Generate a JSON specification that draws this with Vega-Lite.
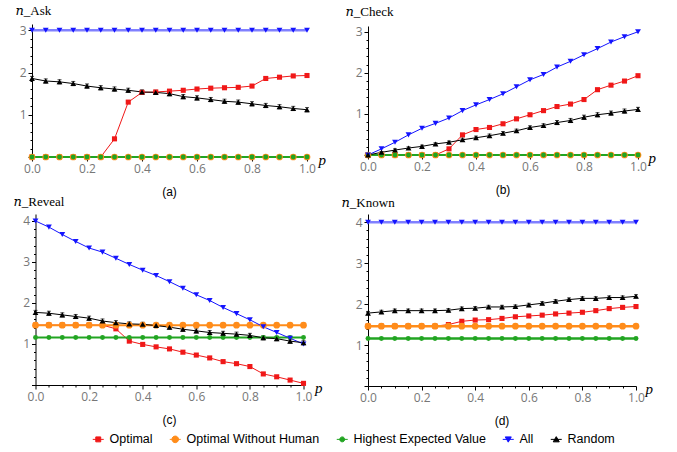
{
"$schema": "https://vega.github.io/schema/vega-lite/v6.json",
"padding": {"left": 13, "top": 4, "right": 5, "bottom": 5},
"background": "white",
"config": {
 "view": {"stroke": null},
 "axis": {"domainColor": "#000", "tickColor": "#000", "labelColor": "#777", "labelFont": "Open Sans", "labelFontSize": 12, "grid": false, "labelPadding": 2, "domainWidth": 1, "tickWidth": 1, "labelOverlap": false, "labelFlush": false, "titleFontWeight": "normal", "titleColor": "#000"},
 "title": {"font": "Liberation Sans", "fontSize": 12, "fontWeight": "normal", "color": "#000"}
},
"data": {"values": [
{"g":"a","s":"Optimal","p":0,"v":0},{"g":"a","s":"Optimal","p":0.05,"v":0},{"g":"a","s":"Optimal","p":0.1,"v":0},{"g":"a","s":"Optimal","p":0.15,"v":0},{"g":"a","s":"Optimal","p":0.2,"v":0},{"g":"a","s":"Optimal","p":0.25,"v":0},{"g":"a","s":"Optimal","p":0.3,"v":0.43},{"g":"a","s":"Optimal","p":0.35,"v":1.3},{"g":"a","s":"Optimal","p":0.4,"v":1.53},{"g":"a","s":"Optimal","p":0.45,"v":1.54},{"g":"a","s":"Optimal","p":0.5,"v":1.56},{"g":"a","s":"Optimal","p":0.55,"v":1.58},{"g":"a","s":"Optimal","p":0.6,"v":1.61},{"g":"a","s":"Optimal","p":0.65,"v":1.63},{"g":"a","s":"Optimal","p":0.7,"v":1.64},{"g":"a","s":"Optimal","p":0.75,"v":1.65},{"g":"a","s":"Optimal","p":0.8,"v":1.68},{"g":"a","s":"Optimal","p":0.85,"v":1.86},{"g":"a","s":"Optimal","p":0.9,"v":1.89},{"g":"a","s":"Optimal","p":0.95,"v":1.92},{"g":"a","s":"Optimal","p":1,"v":1.93},
{"g":"a","s":"Optimal Without Human","p":0,"v":0},{"g":"a","s":"Optimal Without Human","p":0.05,"v":0},{"g":"a","s":"Optimal Without Human","p":0.1,"v":0},{"g":"a","s":"Optimal Without Human","p":0.15,"v":0},{"g":"a","s":"Optimal Without Human","p":0.2,"v":0},{"g":"a","s":"Optimal Without Human","p":0.25,"v":0},{"g":"a","s":"Optimal Without Human","p":0.3,"v":0},{"g":"a","s":"Optimal Without Human","p":0.35,"v":0},{"g":"a","s":"Optimal Without Human","p":0.4,"v":0},{"g":"a","s":"Optimal Without Human","p":0.45,"v":0},{"g":"a","s":"Optimal Without Human","p":0.5,"v":0},{"g":"a","s":"Optimal Without Human","p":0.55,"v":0},{"g":"a","s":"Optimal Without Human","p":0.6,"v":0},{"g":"a","s":"Optimal Without Human","p":0.65,"v":0},{"g":"a","s":"Optimal Without Human","p":0.7,"v":0},{"g":"a","s":"Optimal Without Human","p":0.75,"v":0},{"g":"a","s":"Optimal Without Human","p":0.8,"v":0},{"g":"a","s":"Optimal Without Human","p":0.85,"v":0},{"g":"a","s":"Optimal Without Human","p":0.9,"v":0},{"g":"a","s":"Optimal Without Human","p":0.95,"v":0},{"g":"a","s":"Optimal Without Human","p":1,"v":0},
{"g":"a","s":"Highest Expected Value","p":0,"v":0},{"g":"a","s":"Highest Expected Value","p":0.05,"v":0},{"g":"a","s":"Highest Expected Value","p":0.1,"v":0},{"g":"a","s":"Highest Expected Value","p":0.15,"v":0},{"g":"a","s":"Highest Expected Value","p":0.2,"v":0},{"g":"a","s":"Highest Expected Value","p":0.25,"v":0},{"g":"a","s":"Highest Expected Value","p":0.3,"v":0},{"g":"a","s":"Highest Expected Value","p":0.35,"v":0},{"g":"a","s":"Highest Expected Value","p":0.4,"v":0},{"g":"a","s":"Highest Expected Value","p":0.45,"v":0},{"g":"a","s":"Highest Expected Value","p":0.5,"v":0},{"g":"a","s":"Highest Expected Value","p":0.55,"v":0},{"g":"a","s":"Highest Expected Value","p":0.6,"v":0},{"g":"a","s":"Highest Expected Value","p":0.65,"v":0},{"g":"a","s":"Highest Expected Value","p":0.7,"v":0},{"g":"a","s":"Highest Expected Value","p":0.75,"v":0},{"g":"a","s":"Highest Expected Value","p":0.8,"v":0},{"g":"a","s":"Highest Expected Value","p":0.85,"v":0},{"g":"a","s":"Highest Expected Value","p":0.9,"v":0},{"g":"a","s":"Highest Expected Value","p":0.95,"v":0},{"g":"a","s":"Highest Expected Value","p":1,"v":0},
{"g":"a","s":"All","p":0,"v":3},{"g":"a","s":"All","p":0.05,"v":3},{"g":"a","s":"All","p":0.1,"v":3},{"g":"a","s":"All","p":0.15,"v":3},{"g":"a","s":"All","p":0.2,"v":3},{"g":"a","s":"All","p":0.25,"v":3},{"g":"a","s":"All","p":0.3,"v":3},{"g":"a","s":"All","p":0.35,"v":3},{"g":"a","s":"All","p":0.4,"v":3},{"g":"a","s":"All","p":0.45,"v":3},{"g":"a","s":"All","p":0.5,"v":3},{"g":"a","s":"All","p":0.55,"v":3},{"g":"a","s":"All","p":0.6,"v":3},{"g":"a","s":"All","p":0.65,"v":3},{"g":"a","s":"All","p":0.7,"v":3},{"g":"a","s":"All","p":0.75,"v":3},{"g":"a","s":"All","p":0.8,"v":3},{"g":"a","s":"All","p":0.85,"v":3},{"g":"a","s":"All","p":0.9,"v":3},{"g":"a","s":"All","p":0.95,"v":3},{"g":"a","s":"All","p":1,"v":3},
{"g":"a","s":"Random","p":0,"v":1.86,"e":0.05},{"g":"a","s":"Random","p":0.05,"v":1.8,"e":0.05},{"g":"a","s":"Random","p":0.1,"v":1.78,"e":0.05},{"g":"a","s":"Random","p":0.15,"v":1.74,"e":0.05},{"g":"a","s":"Random","p":0.2,"v":1.68,"e":0.05},{"g":"a","s":"Random","p":0.25,"v":1.64,"e":0.05},{"g":"a","s":"Random","p":0.3,"v":1.61,"e":0.05},{"g":"a","s":"Random","p":0.35,"v":1.58,"e":0.05},{"g":"a","s":"Random","p":0.4,"v":1.54,"e":0.05},{"g":"a","s":"Random","p":0.45,"v":1.53,"e":0.05},{"g":"a","s":"Random","p":0.5,"v":1.5,"e":0.05},{"g":"a","s":"Random","p":0.55,"v":1.43,"e":0.05},{"g":"a","s":"Random","p":0.6,"v":1.4,"e":0.05},{"g":"a","s":"Random","p":0.65,"v":1.36,"e":0.05},{"g":"a","s":"Random","p":0.7,"v":1.32,"e":0.05},{"g":"a","s":"Random","p":0.75,"v":1.3,"e":0.05},{"g":"a","s":"Random","p":0.8,"v":1.26,"e":0.05},{"g":"a","s":"Random","p":0.85,"v":1.22,"e":0.05},{"g":"a","s":"Random","p":0.9,"v":1.19,"e":0.05},{"g":"a","s":"Random","p":0.95,"v":1.15,"e":0.05},{"g":"a","s":"Random","p":1,"v":1.12,"e":0.05},
{"g":"b","s":"Optimal","p":0,"v":0},{"g":"b","s":"Optimal","p":0.05,"v":0},{"g":"b","s":"Optimal","p":0.1,"v":0},{"g":"b","s":"Optimal","p":0.15,"v":0},{"g":"b","s":"Optimal","p":0.2,"v":0},{"g":"b","s":"Optimal","p":0.25,"v":0},{"g":"b","s":"Optimal","p":0.3,"v":0.15},{"g":"b","s":"Optimal","p":0.35,"v":0.49},{"g":"b","s":"Optimal","p":0.4,"v":0.62},{"g":"b","s":"Optimal","p":0.45,"v":0.67},{"g":"b","s":"Optimal","p":0.5,"v":0.76},{"g":"b","s":"Optimal","p":0.55,"v":0.88},{"g":"b","s":"Optimal","p":0.6,"v":0.98},{"g":"b","s":"Optimal","p":0.65,"v":1.08},{"g":"b","s":"Optimal","p":0.7,"v":1.18},{"g":"b","s":"Optimal","p":0.75,"v":1.24},{"g":"b","s":"Optimal","p":0.8,"v":1.35},{"g":"b","s":"Optimal","p":0.85,"v":1.59},{"g":"b","s":"Optimal","p":0.9,"v":1.7},{"g":"b","s":"Optimal","p":0.95,"v":1.8},{"g":"b","s":"Optimal","p":1,"v":1.93},
{"g":"b","s":"Optimal Without Human","p":0,"v":0},{"g":"b","s":"Optimal Without Human","p":0.05,"v":0},{"g":"b","s":"Optimal Without Human","p":0.1,"v":0},{"g":"b","s":"Optimal Without Human","p":0.15,"v":0},{"g":"b","s":"Optimal Without Human","p":0.2,"v":0},{"g":"b","s":"Optimal Without Human","p":0.25,"v":0},{"g":"b","s":"Optimal Without Human","p":0.3,"v":0},{"g":"b","s":"Optimal Without Human","p":0.35,"v":0},{"g":"b","s":"Optimal Without Human","p":0.4,"v":0},{"g":"b","s":"Optimal Without Human","p":0.45,"v":0},{"g":"b","s":"Optimal Without Human","p":0.5,"v":0},{"g":"b","s":"Optimal Without Human","p":0.55,"v":0},{"g":"b","s":"Optimal Without Human","p":0.6,"v":0},{"g":"b","s":"Optimal Without Human","p":0.65,"v":0},{"g":"b","s":"Optimal Without Human","p":0.7,"v":0},{"g":"b","s":"Optimal Without Human","p":0.75,"v":0},{"g":"b","s":"Optimal Without Human","p":0.8,"v":0},{"g":"b","s":"Optimal Without Human","p":0.85,"v":0},{"g":"b","s":"Optimal Without Human","p":0.9,"v":0},{"g":"b","s":"Optimal Without Human","p":0.95,"v":0},{"g":"b","s":"Optimal Without Human","p":1,"v":0},
{"g":"b","s":"Highest Expected Value","p":0,"v":0},{"g":"b","s":"Highest Expected Value","p":0.05,"v":0},{"g":"b","s":"Highest Expected Value","p":0.1,"v":0},{"g":"b","s":"Highest Expected Value","p":0.15,"v":0},{"g":"b","s":"Highest Expected Value","p":0.2,"v":0},{"g":"b","s":"Highest Expected Value","p":0.25,"v":0},{"g":"b","s":"Highest Expected Value","p":0.3,"v":0},{"g":"b","s":"Highest Expected Value","p":0.35,"v":0},{"g":"b","s":"Highest Expected Value","p":0.4,"v":0},{"g":"b","s":"Highest Expected Value","p":0.45,"v":0},{"g":"b","s":"Highest Expected Value","p":0.5,"v":0},{"g":"b","s":"Highest Expected Value","p":0.55,"v":0},{"g":"b","s":"Highest Expected Value","p":0.6,"v":0},{"g":"b","s":"Highest Expected Value","p":0.65,"v":0},{"g":"b","s":"Highest Expected Value","p":0.7,"v":0},{"g":"b","s":"Highest Expected Value","p":0.75,"v":0},{"g":"b","s":"Highest Expected Value","p":0.8,"v":0},{"g":"b","s":"Highest Expected Value","p":0.85,"v":0},{"g":"b","s":"Highest Expected Value","p":0.9,"v":0},{"g":"b","s":"Highest Expected Value","p":0.95,"v":0},{"g":"b","s":"Highest Expected Value","p":1,"v":0},
{"g":"b","s":"All","p":0,"v":0},{"g":"b","s":"All","p":0.05,"v":0.15},{"g":"b","s":"All","p":0.1,"v":0.31},{"g":"b","s":"All","p":0.15,"v":0.49},{"g":"b","s":"All","p":0.2,"v":0.65},{"g":"b","s":"All","p":0.25,"v":0.77},{"g":"b","s":"All","p":0.3,"v":0.9},{"g":"b","s":"All","p":0.35,"v":1.08},{"g":"b","s":"All","p":0.4,"v":1.22},{"g":"b","s":"All","p":0.45,"v":1.35},{"g":"b","s":"All","p":0.5,"v":1.49},{"g":"b","s":"All","p":0.55,"v":1.66},{"g":"b","s":"All","p":0.6,"v":1.83},{"g":"b","s":"All","p":0.65,"v":1.96},{"g":"b","s":"All","p":0.7,"v":2.14},{"g":"b","s":"All","p":0.75,"v":2.28},{"g":"b","s":"All","p":0.8,"v":2.44},{"g":"b","s":"All","p":0.85,"v":2.59},{"g":"b","s":"All","p":0.9,"v":2.75},{"g":"b","s":"All","p":0.95,"v":2.88},{"g":"b","s":"All","p":1,"v":3},
{"g":"b","s":"Random","p":0,"v":0,"e":0},{"g":"b","s":"Random","p":0.05,"v":0.065,"e":0.02},{"g":"b","s":"Random","p":0.1,"v":0.12,"e":0.03},{"g":"b","s":"Random","p":0.15,"v":0.17,"e":0.03},{"g":"b","s":"Random","p":0.2,"v":0.21,"e":0.03},{"g":"b","s":"Random","p":0.25,"v":0.27,"e":0.03},{"g":"b","s":"Random","p":0.3,"v":0.31,"e":0.03},{"g":"b","s":"Random","p":0.35,"v":0.37,"e":0.04},{"g":"b","s":"Random","p":0.4,"v":0.42,"e":0.04},{"g":"b","s":"Random","p":0.45,"v":0.47,"e":0.04},{"g":"b","s":"Random","p":0.5,"v":0.53,"e":0.04},{"g":"b","s":"Random","p":0.55,"v":0.59,"e":0.04},{"g":"b","s":"Random","p":0.6,"v":0.67,"e":0.04},{"g":"b","s":"Random","p":0.65,"v":0.72,"e":0.04},{"g":"b","s":"Random","p":0.7,"v":0.79,"e":0.05},{"g":"b","s":"Random","p":0.75,"v":0.84,"e":0.05},{"g":"b","s":"Random","p":0.8,"v":0.92,"e":0.05},{"g":"b","s":"Random","p":0.85,"v":0.98,"e":0.05},{"g":"b","s":"Random","p":0.9,"v":1.02,"e":0.05},{"g":"b","s":"Random","p":0.95,"v":1.07,"e":0.05},{"g":"b","s":"Random","p":1,"v":1.11,"e":0.05},
{"g":"c","s":"Optimal","p":0,"v":1.46},{"g":"c","s":"Optimal","p":0.05,"v":1.46},{"g":"c","s":"Optimal","p":0.1,"v":1.46},{"g":"c","s":"Optimal","p":0.15,"v":1.46},{"g":"c","s":"Optimal","p":0.2,"v":1.46},{"g":"c","s":"Optimal","p":0.25,"v":1.46},{"g":"c","s":"Optimal","p":0.3,"v":1.37},{"g":"c","s":"Optimal","p":0.35,"v":1.07},{"g":"c","s":"Optimal","p":0.4,"v":0.99},{"g":"c","s":"Optimal","p":0.45,"v":0.93},{"g":"c","s":"Optimal","p":0.5,"v":0.88},{"g":"c","s":"Optimal","p":0.55,"v":0.8},{"g":"c","s":"Optimal","p":0.6,"v":0.73},{"g":"c","s":"Optimal","p":0.65,"v":0.66},{"g":"c","s":"Optimal","p":0.7,"v":0.57},{"g":"c","s":"Optimal","p":0.75,"v":0.52},{"g":"c","s":"Optimal","p":0.8,"v":0.45},{"g":"c","s":"Optimal","p":0.85,"v":0.27},{"g":"c","s":"Optimal","p":0.9,"v":0.2},{"g":"c","s":"Optimal","p":0.95,"v":0.12},{"g":"c","s":"Optimal","p":1,"v":0.04},
{"g":"c","s":"Optimal Without Human","p":0,"v":1.46},{"g":"c","s":"Optimal Without Human","p":0.05,"v":1.46},{"g":"c","s":"Optimal Without Human","p":0.1,"v":1.46},{"g":"c","s":"Optimal Without Human","p":0.15,"v":1.46},{"g":"c","s":"Optimal Without Human","p":0.2,"v":1.46},{"g":"c","s":"Optimal Without Human","p":0.25,"v":1.46},{"g":"c","s":"Optimal Without Human","p":0.3,"v":1.46},{"g":"c","s":"Optimal Without Human","p":0.35,"v":1.46},{"g":"c","s":"Optimal Without Human","p":0.4,"v":1.46},{"g":"c","s":"Optimal Without Human","p":0.45,"v":1.46},{"g":"c","s":"Optimal Without Human","p":0.5,"v":1.46},{"g":"c","s":"Optimal Without Human","p":0.55,"v":1.46},{"g":"c","s":"Optimal Without Human","p":0.6,"v":1.46},{"g":"c","s":"Optimal Without Human","p":0.65,"v":1.46},{"g":"c","s":"Optimal Without Human","p":0.7,"v":1.46},{"g":"c","s":"Optimal Without Human","p":0.75,"v":1.46},{"g":"c","s":"Optimal Without Human","p":0.8,"v":1.46},{"g":"c","s":"Optimal Without Human","p":0.85,"v":1.46},{"g":"c","s":"Optimal Without Human","p":0.9,"v":1.46},{"g":"c","s":"Optimal Without Human","p":0.95,"v":1.46},{"g":"c","s":"Optimal Without Human","p":1,"v":1.46},
{"g":"c","s":"Highest Expected Value","p":0,"v":1.16},{"g":"c","s":"Highest Expected Value","p":0.05,"v":1.16},{"g":"c","s":"Highest Expected Value","p":0.1,"v":1.16},{"g":"c","s":"Highest Expected Value","p":0.15,"v":1.16},{"g":"c","s":"Highest Expected Value","p":0.2,"v":1.16},{"g":"c","s":"Highest Expected Value","p":0.25,"v":1.16},{"g":"c","s":"Highest Expected Value","p":0.3,"v":1.16},{"g":"c","s":"Highest Expected Value","p":0.35,"v":1.16},{"g":"c","s":"Highest Expected Value","p":0.4,"v":1.16},{"g":"c","s":"Highest Expected Value","p":0.45,"v":1.16},{"g":"c","s":"Highest Expected Value","p":0.5,"v":1.16},{"g":"c","s":"Highest Expected Value","p":0.55,"v":1.16},{"g":"c","s":"Highest Expected Value","p":0.6,"v":1.16},{"g":"c","s":"Highest Expected Value","p":0.65,"v":1.16},{"g":"c","s":"Highest Expected Value","p":0.7,"v":1.16},{"g":"c","s":"Highest Expected Value","p":0.75,"v":1.16},{"g":"c","s":"Highest Expected Value","p":0.8,"v":1.16},{"g":"c","s":"Highest Expected Value","p":0.85,"v":1.16},{"g":"c","s":"Highest Expected Value","p":0.9,"v":1.16},{"g":"c","s":"Highest Expected Value","p":0.95,"v":1.16},{"g":"c","s":"Highest Expected Value","p":1,"v":1.16},
{"g":"c","s":"All","p":0,"v":4},{"g":"c","s":"All","p":0.05,"v":3.85},{"g":"c","s":"All","p":0.1,"v":3.67},{"g":"c","s":"All","p":0.15,"v":3.5},{"g":"c","s":"All","p":0.2,"v":3.34},{"g":"c","s":"All","p":0.25,"v":3.24},{"g":"c","s":"All","p":0.3,"v":3.09},{"g":"c","s":"All","p":0.35,"v":2.94},{"g":"c","s":"All","p":0.4,"v":2.8},{"g":"c","s":"All","p":0.45,"v":2.67},{"g":"c","s":"All","p":0.5,"v":2.52},{"g":"c","s":"All","p":0.55,"v":2.36},{"g":"c","s":"All","p":0.6,"v":2.2},{"g":"c","s":"All","p":0.65,"v":2.06},{"g":"c","s":"All","p":0.7,"v":1.89},{"g":"c","s":"All","p":0.75,"v":1.74},{"g":"c","s":"All","p":0.8,"v":1.59},{"g":"c","s":"All","p":0.85,"v":1.42},{"g":"c","s":"All","p":0.9,"v":1.28},{"g":"c","s":"All","p":0.95,"v":1.14},{"g":"c","s":"All","p":1,"v":1},
{"g":"c","s":"Random","p":0,"v":1.77,"e":0.05},{"g":"c","s":"Random","p":0.05,"v":1.75,"e":0.05},{"g":"c","s":"Random","p":0.1,"v":1.71,"e":0.05},{"g":"c","s":"Random","p":0.15,"v":1.67,"e":0.05},{"g":"c","s":"Random","p":0.2,"v":1.63,"e":0.05},{"g":"c","s":"Random","p":0.25,"v":1.56,"e":0.05},{"g":"c","s":"Random","p":0.3,"v":1.52,"e":0.05},{"g":"c","s":"Random","p":0.35,"v":1.49,"e":0.05},{"g":"c","s":"Random","p":0.4,"v":1.48,"e":0.05},{"g":"c","s":"Random","p":0.45,"v":1.45,"e":0.05},{"g":"c","s":"Random","p":0.5,"v":1.41,"e":0.05},{"g":"c","s":"Random","p":0.55,"v":1.36,"e":0.05},{"g":"c","s":"Random","p":0.6,"v":1.32,"e":0.05},{"g":"c","s":"Random","p":0.65,"v":1.28,"e":0.05},{"g":"c","s":"Random","p":0.7,"v":1.26,"e":0.05},{"g":"c","s":"Random","p":0.75,"v":1.24,"e":0.05},{"g":"c","s":"Random","p":0.8,"v":1.21,"e":0.05},{"g":"c","s":"Random","p":0.85,"v":1.15,"e":0.05},{"g":"c","s":"Random","p":0.9,"v":1.13,"e":0.05},{"g":"c","s":"Random","p":0.95,"v":1.07,"e":0.05},{"g":"c","s":"Random","p":1,"v":1.03,"e":0.05},
{"g":"d","s":"Optimal","p":0,"v":1.46},{"g":"d","s":"Optimal","p":0.05,"v":1.46},{"g":"d","s":"Optimal","p":0.1,"v":1.46},{"g":"d","s":"Optimal","p":0.15,"v":1.46},{"g":"d","s":"Optimal","p":0.2,"v":1.46},{"g":"d","s":"Optimal","p":0.25,"v":1.46},{"g":"d","s":"Optimal","p":0.3,"v":1.5},{"g":"d","s":"Optimal","p":0.35,"v":1.58},{"g":"d","s":"Optimal","p":0.4,"v":1.61},{"g":"d","s":"Optimal","p":0.45,"v":1.62},{"g":"d","s":"Optimal","p":0.5,"v":1.65},{"g":"d","s":"Optimal","p":0.55,"v":1.69},{"g":"d","s":"Optimal","p":0.6,"v":1.71},{"g":"d","s":"Optimal","p":0.65,"v":1.73},{"g":"d","s":"Optimal","p":0.7,"v":1.76},{"g":"d","s":"Optimal","p":0.75,"v":1.78},{"g":"d","s":"Optimal","p":0.8,"v":1.8},{"g":"d","s":"Optimal","p":0.85,"v":1.84},{"g":"d","s":"Optimal","p":0.9,"v":1.89},{"g":"d","s":"Optimal","p":0.95,"v":1.92},{"g":"d","s":"Optimal","p":1,"v":1.94},
{"g":"d","s":"Optimal Without Human","p":0,"v":1.46},{"g":"d","s":"Optimal Without Human","p":0.05,"v":1.46},{"g":"d","s":"Optimal Without Human","p":0.1,"v":1.46},{"g":"d","s":"Optimal Without Human","p":0.15,"v":1.46},{"g":"d","s":"Optimal Without Human","p":0.2,"v":1.46},{"g":"d","s":"Optimal Without Human","p":0.25,"v":1.46},{"g":"d","s":"Optimal Without Human","p":0.3,"v":1.46},{"g":"d","s":"Optimal Without Human","p":0.35,"v":1.46},{"g":"d","s":"Optimal Without Human","p":0.4,"v":1.46},{"g":"d","s":"Optimal Without Human","p":0.45,"v":1.46},{"g":"d","s":"Optimal Without Human","p":0.5,"v":1.46},{"g":"d","s":"Optimal Without Human","p":0.55,"v":1.46},{"g":"d","s":"Optimal Without Human","p":0.6,"v":1.46},{"g":"d","s":"Optimal Without Human","p":0.65,"v":1.46},{"g":"d","s":"Optimal Without Human","p":0.7,"v":1.46},{"g":"d","s":"Optimal Without Human","p":0.75,"v":1.46},{"g":"d","s":"Optimal Without Human","p":0.8,"v":1.46},{"g":"d","s":"Optimal Without Human","p":0.85,"v":1.46},{"g":"d","s":"Optimal Without Human","p":0.9,"v":1.46},{"g":"d","s":"Optimal Without Human","p":0.95,"v":1.46},{"g":"d","s":"Optimal Without Human","p":1,"v":1.46},
{"g":"d","s":"Highest Expected Value","p":0,"v":1.16},{"g":"d","s":"Highest Expected Value","p":0.05,"v":1.16},{"g":"d","s":"Highest Expected Value","p":0.1,"v":1.16},{"g":"d","s":"Highest Expected Value","p":0.15,"v":1.16},{"g":"d","s":"Highest Expected Value","p":0.2,"v":1.16},{"g":"d","s":"Highest Expected Value","p":0.25,"v":1.16},{"g":"d","s":"Highest Expected Value","p":0.3,"v":1.16},{"g":"d","s":"Highest Expected Value","p":0.35,"v":1.16},{"g":"d","s":"Highest Expected Value","p":0.4,"v":1.16},{"g":"d","s":"Highest Expected Value","p":0.45,"v":1.16},{"g":"d","s":"Highest Expected Value","p":0.5,"v":1.16},{"g":"d","s":"Highest Expected Value","p":0.55,"v":1.16},{"g":"d","s":"Highest Expected Value","p":0.6,"v":1.16},{"g":"d","s":"Highest Expected Value","p":0.65,"v":1.16},{"g":"d","s":"Highest Expected Value","p":0.7,"v":1.16},{"g":"d","s":"Highest Expected Value","p":0.75,"v":1.16},{"g":"d","s":"Highest Expected Value","p":0.8,"v":1.16},{"g":"d","s":"Highest Expected Value","p":0.85,"v":1.16},{"g":"d","s":"Highest Expected Value","p":0.9,"v":1.16},{"g":"d","s":"Highest Expected Value","p":0.95,"v":1.16},{"g":"d","s":"Highest Expected Value","p":1,"v":1.16},
{"g":"d","s":"All","p":0,"v":4},{"g":"d","s":"All","p":0.05,"v":4},{"g":"d","s":"All","p":0.1,"v":4},{"g":"d","s":"All","p":0.15,"v":4},{"g":"d","s":"All","p":0.2,"v":4},{"g":"d","s":"All","p":0.25,"v":4},{"g":"d","s":"All","p":0.3,"v":4},{"g":"d","s":"All","p":0.35,"v":4},{"g":"d","s":"All","p":0.4,"v":4},{"g":"d","s":"All","p":0.45,"v":4},{"g":"d","s":"All","p":0.5,"v":4},{"g":"d","s":"All","p":0.55,"v":4},{"g":"d","s":"All","p":0.6,"v":4},{"g":"d","s":"All","p":0.65,"v":4},{"g":"d","s":"All","p":0.7,"v":4},{"g":"d","s":"All","p":0.75,"v":4},{"g":"d","s":"All","p":0.8,"v":4},{"g":"d","s":"All","p":0.85,"v":4},{"g":"d","s":"All","p":0.9,"v":4},{"g":"d","s":"All","p":0.95,"v":4},{"g":"d","s":"All","p":1,"v":4},
{"g":"d","s":"Random","p":0,"v":1.78,"e":0.04},{"g":"d","s":"Random","p":0.05,"v":1.81,"e":0.04},{"g":"d","s":"Random","p":0.1,"v":1.84,"e":0.04},{"g":"d","s":"Random","p":0.15,"v":1.84,"e":0.04},{"g":"d","s":"Random","p":0.2,"v":1.84,"e":0.04},{"g":"d","s":"Random","p":0.25,"v":1.84,"e":0.04},{"g":"d","s":"Random","p":0.3,"v":1.85,"e":0.04},{"g":"d","s":"Random","p":0.35,"v":1.89,"e":0.04},{"g":"d","s":"Random","p":0.4,"v":1.9,"e":0.04},{"g":"d","s":"Random","p":0.45,"v":1.93,"e":0.04},{"g":"d","s":"Random","p":0.5,"v":1.93,"e":0.04},{"g":"d","s":"Random","p":0.55,"v":1.94,"e":0.04},{"g":"d","s":"Random","p":0.6,"v":1.98,"e":0.04},{"g":"d","s":"Random","p":0.65,"v":2.02,"e":0.04},{"g":"d","s":"Random","p":0.7,"v":2.07,"e":0.04},{"g":"d","s":"Random","p":0.75,"v":2.11,"e":0.04},{"g":"d","s":"Random","p":0.8,"v":2.14,"e":0.04},{"g":"d","s":"Random","p":0.85,"v":2.14,"e":0.04},{"g":"d","s":"Random","p":0.9,"v":2.16,"e":0.04},{"g":"d","s":"Random","p":0.95,"v":2.16,"e":0.04},{"g":"d","s":"Random","p":1,"v":2.19,"e":0.04}
]},
"columns": 2,
"bounds": "flush",
"center": true,
"spacing": {"row": 57, "column": 61},
"concat": [
 {"width": 275, "height": 133,
  "title": {"text": "(a)", "orient": "bottom", "anchor": "middle", "frame": "group", "offset": 13},
  "transform": [{"filter": "datum.g == 'a'"}],
  "encoding": {
   "x": {"field": "p", "type": "quantitative", "scale": {"domain": [0, 1], "nice": false},
    "axis": {"values": [0,0.05,0.1,0.15,0.2,0.25,0.3,0.35,0.4,0.45,0.5,0.55,0.6,0.65,0.7,0.75,0.8,0.85,0.9,0.95,1], "labelExpr": "abs(datum.value*5-round(datum.value*5))<0.001 ? format(datum.value,'.1f') : ''", "tickSize": {"condition": {"test": "abs(datum.value*5-round(datum.value*5))<0.001", "value": 4}, "value": 2},
     "title": "p", "titleFont": "Liberation Serif", "titleFontStyle": "italic", "titleFontSize": 15, "titleX": 286, "titleY": 2, "titleAlign": "left", "titleBaseline": "middle"}},
   "y": {"field": "v", "type": "quantitative", "scale": {"domain": [0, 3.15], "nice": false},
    "axis": {"values": [0,0.2,0.4,0.6,0.8,1,1.2,1.4,1.6,1.8,2,2.2,2.4,2.6,2.8,3], "labelExpr": "datum.value>0.5 && abs(datum.value-round(datum.value))<0.001 ? '' + round(datum.value) : ''", "tickSize": {"condition": {"test": "abs(datum.value-round(datum.value))<0.001", "value": 4}, "value": 2},
     "title": "𝑛_Ask", "titleFont": "Liberation Serif, DejaVu Serif", "titleFontSize": 13, "titleAngle": 0, "titleX": -17, "titleY": -14, "titleAlign": "left", "titleBaseline": "middle"}}},
  "layer": [
   {"transform": [{"filter": "datum.s == 'All'"}], "mark": {"type": "line", "color": "#8080ff", "strokeWidth": 2.5}},
   {"transform": [{"filter": "datum.s != 'All'"}], "mark": {"type": "line"},
    "encoding": {
     "color": {"field": "s", "type": "nominal", "scale": {"domain": ["Optimal", "Optimal Without Human", "Highest Expected Value", "All", "Random"], "range": ["#f01818", "#ff8c1a", "#22a522", "#1414ff", "#000000"]},
      "legend": {"orient": "none", "legendX": 60, "legendY": 409, "direction": "horizontal", "title": null, "labelFont": "Liberation Sans", "labelFontSize": 12.5, "labelColor": "#000", "columnPadding": 14, "symbolSize": 121, "symbolStrokeWidth": 1, "labelOffset": 5, "symbolOpacity": 1,
       "symbolType": {"expr": "datum.value==='Optimal' ? 'M-1,0H1M-0.45,-0.45H0.45V0.45H-0.45Z' : datum.value==='Optimal Without Human' ? 'M-1,0H1M0.6,0A0.6,0.6,0,1,1,-0.6,0A0.6,0.6,0,1,1,0.6,0Z' : datum.value==='Highest Expected Value' ? 'M-1,0H1M0.45,0A0.45,0.45,0,1,1,-0.45,0A0.45,0.45,0,1,1,0.45,0Z' : datum.value==='All' ? 'M-1,0H1M-0.55,-0.45H0.55L0,0.5Z' : 'M-1,0H1M-0.55,0.45H0.55L0,-0.5Z'"},
       "symbolFillColor": {"expr": "scale('color', datum.value)"},
       "symbolStrokeColor": {"expr": "scale('color', datum.value)"}}},
     "strokeWidth": {"condition": {"test": "datum.s=='Optimal Without Human' || datum.s=='Highest Expected Value'", "value": 2}, "value": 1}}},
   {"transform": [{"filter": "datum.s == 'Random'"}], "mark": {"type": "errorbar", "color": "#000", "ticks": {"size": 4, "color": "#000"}},
    "encoding": {"yError": {"field": "e"}}},
   {"mark": {"type": "point", "filled": true, "opacity": 1},
    "encoding": {
     "color": {"field": "s", "type": "nominal"},
     "shape": {"condition": [{"test": "datum.s=='Optimal'", "value": "square"}, {"test": "datum.s=='All'", "value": "triangle-down"}, {"test": "datum.s=='Random'", "value": "triangle-up"}], "value": "circle"},
     "size": {"condition": [{"test": "datum.s=='Optimal Without Human'", "value": 45}, {"test": "datum.s=='Optimal'", "value": 26}, {"test": "datum.s=='Highest Expected Value'", "value": 24}], "value": 34}}}
  ]},
 {"width": 270, "height": 129,
  "title": {"text": "(b)", "orient": "bottom", "anchor": "middle", "frame": "group", "offset": 13},
  "transform": [{"filter": "datum.g == 'b'"}],
  "encoding": {
   "x": {"field": "p", "type": "quantitative", "scale": {"domain": [0, 1], "nice": false},
    "axis": {"values": [0,0.05,0.1,0.15,0.2,0.25,0.3,0.35,0.4,0.45,0.5,0.55,0.6,0.65,0.7,0.75,0.8,0.85,0.9,0.95,1], "labelExpr": "abs(datum.value*5-round(datum.value*5))<0.001 ? format(datum.value,'.1f') : ''", "tickSize": {"condition": {"test": "abs(datum.value*5-round(datum.value*5))<0.001", "value": 4}, "value": 2},
     "title": "p", "titleFont": "Liberation Serif", "titleFontStyle": "italic", "titleFontSize": 15, "titleX": 280, "titleY": 2, "titleAlign": "left", "titleBaseline": "middle"}},
   "y": {"field": "v", "type": "quantitative", "scale": {"domain": [0, 3.14], "nice": false},
    "axis": {"values": [0,0.2,0.4,0.6,0.8,1,1.2,1.4,1.6,1.8,2,2.2,2.4,2.6,2.8,3], "labelExpr": "datum.value>0.5 && abs(datum.value-round(datum.value))<0.001 ? '' + round(datum.value) : ''", "tickSize": {"condition": {"test": "abs(datum.value-round(datum.value))<0.001", "value": 4}, "value": 2},
     "title": "𝑛_Check", "titleFont": "Liberation Serif, DejaVu Serif", "titleFontSize": 13, "titleAngle": 0, "titleX": -23, "titleY": -15, "titleAlign": "left", "titleBaseline": "middle"}}},
  "layer": [
   {"mark": {"type": "line"},
    "encoding": {
     "color": {"field": "s", "type": "nominal"},
     "strokeWidth": {"condition": {"test": "datum.s=='Optimal Without Human' || datum.s=='Highest Expected Value'", "value": 2}, "value": 1}}},
   {"transform": [{"filter": "datum.s == 'Random'"}], "mark": {"type": "errorbar", "color": "#000", "ticks": {"size": 4, "color": "#000"}},
    "encoding": {"yError": {"field": "e"}}},
   {"mark": {"type": "point", "filled": true, "opacity": 1},
    "encoding": {
     "color": {"field": "s", "type": "nominal"},
     "shape": {"condition": [{"test": "datum.s=='Optimal'", "value": "square"}, {"test": "datum.s=='All'", "value": "triangle-down"}, {"test": "datum.s=='Random'", "value": "triangle-up"}], "value": "circle"},
     "size": {"condition": [{"test": "datum.s=='Optimal Without Human'", "value": 45}, {"test": "datum.s=='Optimal'", "value": 26}, {"test": "datum.s=='Highest Expected Value'", "value": 24}], "value": 34}}}
  ]},
 {"width": 268, "height": 171,
  "title": {"text": "(c)", "orient": "bottom", "anchor": "middle", "frame": "group", "offset": 13},
  "transform": [{"filter": "datum.g == 'c'"}],
  "encoding": {
   "x": {"field": "p", "type": "quantitative", "scale": {"domain": [0, 1], "nice": false},
    "axis": {"values": [0,0.05,0.1,0.15,0.2,0.25,0.3,0.35,0.4,0.45,0.5,0.55,0.6,0.65,0.7,0.75,0.8,0.85,0.9,0.95,1], "labelExpr": "abs(datum.value*5-round(datum.value*5))<0.001 ? format(datum.value,'.1f') : ''", "tickSize": {"condition": {"test": "abs(datum.value*5-round(datum.value*5))<0.001", "value": 4}, "value": 2},
     "title": "p", "titleFont": "Liberation Serif", "titleFontStyle": "italic", "titleFontSize": 15, "titleX": 279, "titleY": 2, "titleAlign": "left", "titleBaseline": "middle"}},
   "y": {"field": "v", "type": "quantitative", "scale": {"domain": [0, 4.17], "nice": false},
    "axis": {"values": [0,0.2,0.4,0.6,0.8,1,1.2,1.4,1.6,1.8,2,2.2,2.4,2.6,2.8,3,3.2,3.4,3.6,3.8,4], "labelExpr": "datum.value>0.5 && abs(datum.value-round(datum.value))<0.001 ? '' + round(datum.value) : ''", "tickSize": {"condition": {"test": "abs(datum.value-round(datum.value))<0.001", "value": 4}, "value": 2},
     "title": "𝑛_Reveal", "titleFont": "Liberation Serif, DejaVu Serif", "titleFontSize": 13, "titleAngle": 0, "titleX": -22.5, "titleY": -13, "titleAlign": "left", "titleBaseline": "middle"}}},
  "layer": [
   {"mark": {"type": "line"},
    "encoding": {
     "color": {"field": "s", "type": "nominal"},
     "strokeWidth": {"condition": {"test": "datum.s=='Optimal Without Human' || datum.s=='Highest Expected Value'", "value": 2}, "value": 1}}},
   {"transform": [{"filter": "datum.s == 'Random'"}], "mark": {"type": "errorbar", "color": "#000", "ticks": {"size": 4, "color": "#000"}},
    "encoding": {"yError": {"field": "e"}}},
   {"mark": {"type": "point", "filled": true, "opacity": 1},
    "encoding": {
     "color": {"field": "s", "type": "nominal"},
     "shape": {"condition": [{"test": "datum.s=='Optimal'", "value": "square"}, {"test": "datum.s=='All'", "value": "triangle-down"}, {"test": "datum.s=='Random'", "value": "triangle-up"}], "value": "circle"},
     "size": {"condition": [{"test": "datum.s=='Optimal Without Human'", "value": 45}, {"test": "datum.s=='Optimal'", "value": 26}, {"test": "datum.s=='Highest Expected Value'", "value": 24}], "value": 34}}}
  ]},
 {"width": 268, "height": 172,
  "title": {"text": "(d)", "orient": "bottom", "anchor": "middle", "frame": "group", "offset": 13},
  "transform": [{"filter": "datum.g == 'd'"}],
  "encoding": {
   "x": {"field": "p", "type": "quantitative", "scale": {"domain": [0, 1], "nice": false},
    "axis": {"values": [0,0.05,0.1,0.15,0.2,0.25,0.3,0.35,0.4,0.45,0.5,0.55,0.6,0.65,0.7,0.75,0.8,0.85,0.9,0.95,1], "labelExpr": "abs(datum.value*5-round(datum.value*5))<0.001 ? format(datum.value,'.1f') : ''", "tickSize": {"condition": {"test": "abs(datum.value*5-round(datum.value*5))<0.001", "value": 4}, "value": 2},
     "title": "p", "titleFont": "Liberation Serif", "titleFontStyle": "italic", "titleFontSize": 15, "titleX": 277, "titleY": 2, "titleAlign": "left", "titleBaseline": "middle"}},
   "y": {"field": "v", "type": "quantitative", "scale": {"domain": [0, 4.2], "nice": false},
    "axis": {"values": [0,0.2,0.4,0.6,0.8,1,1.2,1.4,1.6,1.8,2,2.2,2.4,2.6,2.8,3,3.2,3.4,3.6,3.8,4], "labelExpr": "datum.value>0.5 && abs(datum.value-round(datum.value))<0.001 ? '' + round(datum.value) : ''", "tickSize": {"condition": {"test": "abs(datum.value-round(datum.value))<0.001", "value": 4}, "value": 2},
     "title": "𝑛_Known", "titleFont": "Liberation Serif, DejaVu Serif", "titleFontSize": 13, "titleAngle": 0, "titleX": -27, "titleY": -12, "titleAlign": "left", "titleBaseline": "middle"}}},
  "layer": [
   {"transform": [{"filter": "datum.s == 'All'"}], "mark": {"type": "line", "color": "#8080ff", "strokeWidth": 2.5}},
   {"transform": [{"filter": "datum.s != 'All'"}], "mark": {"type": "line"},
    "encoding": {
     "color": {"field": "s", "type": "nominal"},
     "strokeWidth": {"condition": {"test": "datum.s=='Optimal Without Human' || datum.s=='Highest Expected Value'", "value": 2.5}, "value": 1}}},
   {"transform": [{"filter": "datum.s == 'Random'"}], "mark": {"type": "errorbar", "color": "#000", "ticks": {"size": 4, "color": "#000"}},
    "encoding": {"yError": {"field": "e"}}},
   {"mark": {"type": "point", "filled": true, "opacity": 1},
    "encoding": {
     "color": {"field": "s", "type": "nominal"},
     "shape": {"condition": [{"test": "datum.s=='Optimal'", "value": "square"}, {"test": "datum.s=='All'", "value": "triangle-down"}, {"test": "datum.s=='Random'", "value": "triangle-up"}], "value": "circle"},
     "size": {"condition": [{"test": "datum.s=='Optimal Without Human'", "value": 45}, {"test": "datum.s=='Optimal'", "value": 26}, {"test": "datum.s=='Highest Expected Value'", "value": 24}], "value": 34}}}
  ]}
]
}
